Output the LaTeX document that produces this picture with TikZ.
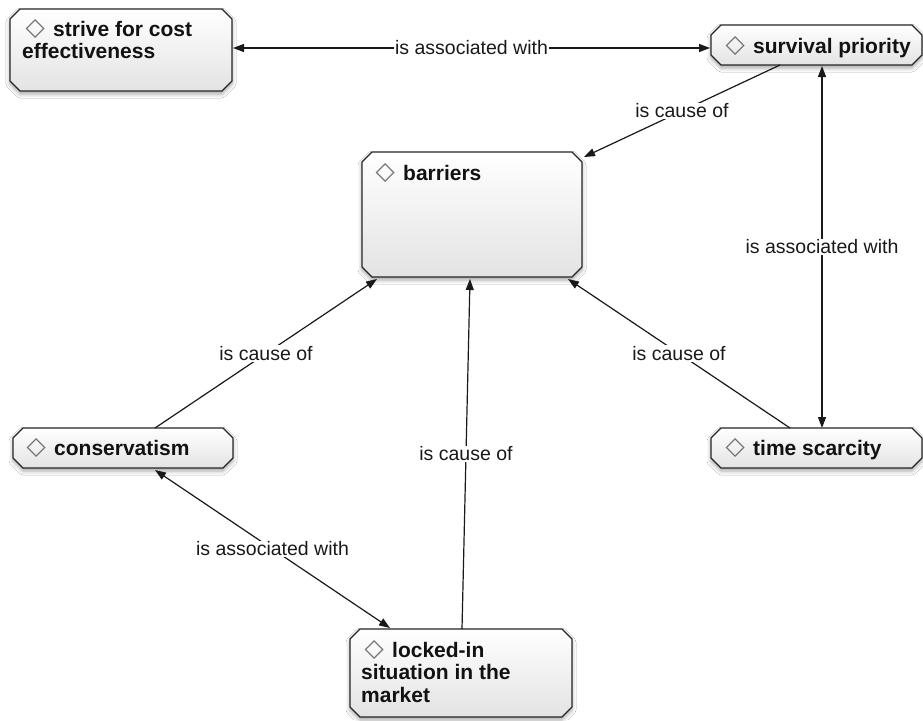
\documentclass[tikz,border=0pt]{standalone}
\usepackage{fontspec}
\setmainfont{Liberation Sans}
\newfontfamily\djfont{DejaVu Sans}
\usetikzlibrary{arrows.meta,calc,shadows.blur}
\newcommand\dmd{\hspace*{3.5pt}\makebox[27.5pt][l]{\raisebox{0.5pt}{\djfont\mdseries\fontsize{25}{22}\selectfont\color{black!55}◇}}}
\newcommand\conceptbox[5]{%
  \path[boxshape] ({#2+10},{#3}) -- ({#4-10},{#3}) -- ({#4},{#3+10}) -- ({#4},{#5-10}) -- ({#4-10},{#5}) -- ({#2+10},{#5}) -- ({#2},{#5-10}) -- ({#2},{#3+10}) -- cycle;
  \node[anchorbox, minimum width={(#4-#2)*1pt}, minimum height={(#5-#3)*1pt}] (#1) at ({(#2+#4)/2},{(#3+#5)/2}) {};%
}
\tikzset{
  boxshape/.style={draw=black!85, line width=1.1pt, top color=white, bottom color=black!11,
    blur shadow={shadow xshift=0pt, shadow yshift=-3pt, shadow blur radius=4pt, shadow opacity=35}},
  anchorbox/.style={rectangle, inner sep=0pt, outer sep=0pt},
  txt/.style={inner sep=0pt, anchor=base west, text=black!93, font=\bfseries\fontsize{21}{22.5}\selectfont},
  conn/.style={line width=1.2pt, draw=black!90, -{Triangle[length=11pt,width=8pt]}},
  biconn/.style={line width=1.2pt, draw=black!90, {Triangle[length=11pt,width=8pt]}-{Triangle[length=11pt,width=8pt]}},
  lbl/.style={fill=white, inner sep=1pt, text=black!90, font=\fontsize{19.5}{22}\selectfont}
}
\begin{document}
\begin{tikzpicture}[x=1pt,y=-1pt]
\useasboundingbox[fill=white] (0,0) rectangle (923,720);
% concept boxes
\conceptbox{strive}{10}{9}{232}{91}
\conceptbox{survival}{711}{25}{922}{65}
\conceptbox{barriers}{362}{152}{582}{277}
\conceptbox{cons}{13}{428}{233}{468}
\conceptbox{time}{711}{428}{922}{468}
\conceptbox{locked}{350}{629}{572}{717}
% texts
\node[txt] (striveT) at (22,36) {\parbox[t]{205pt}{\raggedright\dmd strive for cost\\effectiveness}};
\node[txt] (survivalT) at (722,53) {\dmd survival priority};
\node[txt] (barriersT) at (372,180) {\dmd barriers};
\node[txt] (consT) at (23,455) {\dmd conservatism};
\node[txt] (timeT) at (722,455) {\dmd time scarcity};
\node[txt] (lockedT) at (361,657) {\parbox[t]{205pt}{\raggedright\dmd locked-in\\situation in the\\market}};
% connectors
\draw[biconn] ($(strive.east)+(1,-2)$) -- node[lbl]{is associated with} ($(survival.west)+(-1,3)$);
\draw[conn] ($(survival.south)+(-36.5,0)$) -- node[lbl]{is cause of} ($(barriers.north east)+(2,5)$);
\draw[biconn] ($(survival.south)+(5.5,1)$) -- node[lbl]{is associated with} ($(time.north)+(5.5,0)$);
\draw[conn] ($(cons.north)+(32,0)$) -- node[lbl]{is cause of} ($(barriers.south west)+(15,2)$);
\draw[conn] ($(locked.north)+(1,0)$) -- node[lbl]{is cause of} ($(barriers.south)+(-2,2)$);
\draw[conn] ($(time.north)+(-26.5,0)$) -- node[lbl]{is cause of} ($(barriers.south east)+(-14,2)$);
\draw[biconn] ($(cons.south)+(32,2)$) -- node[lbl]{is associated with} ($(locked.north west)+(40,-1)$);
\end{tikzpicture}
\end{document}
